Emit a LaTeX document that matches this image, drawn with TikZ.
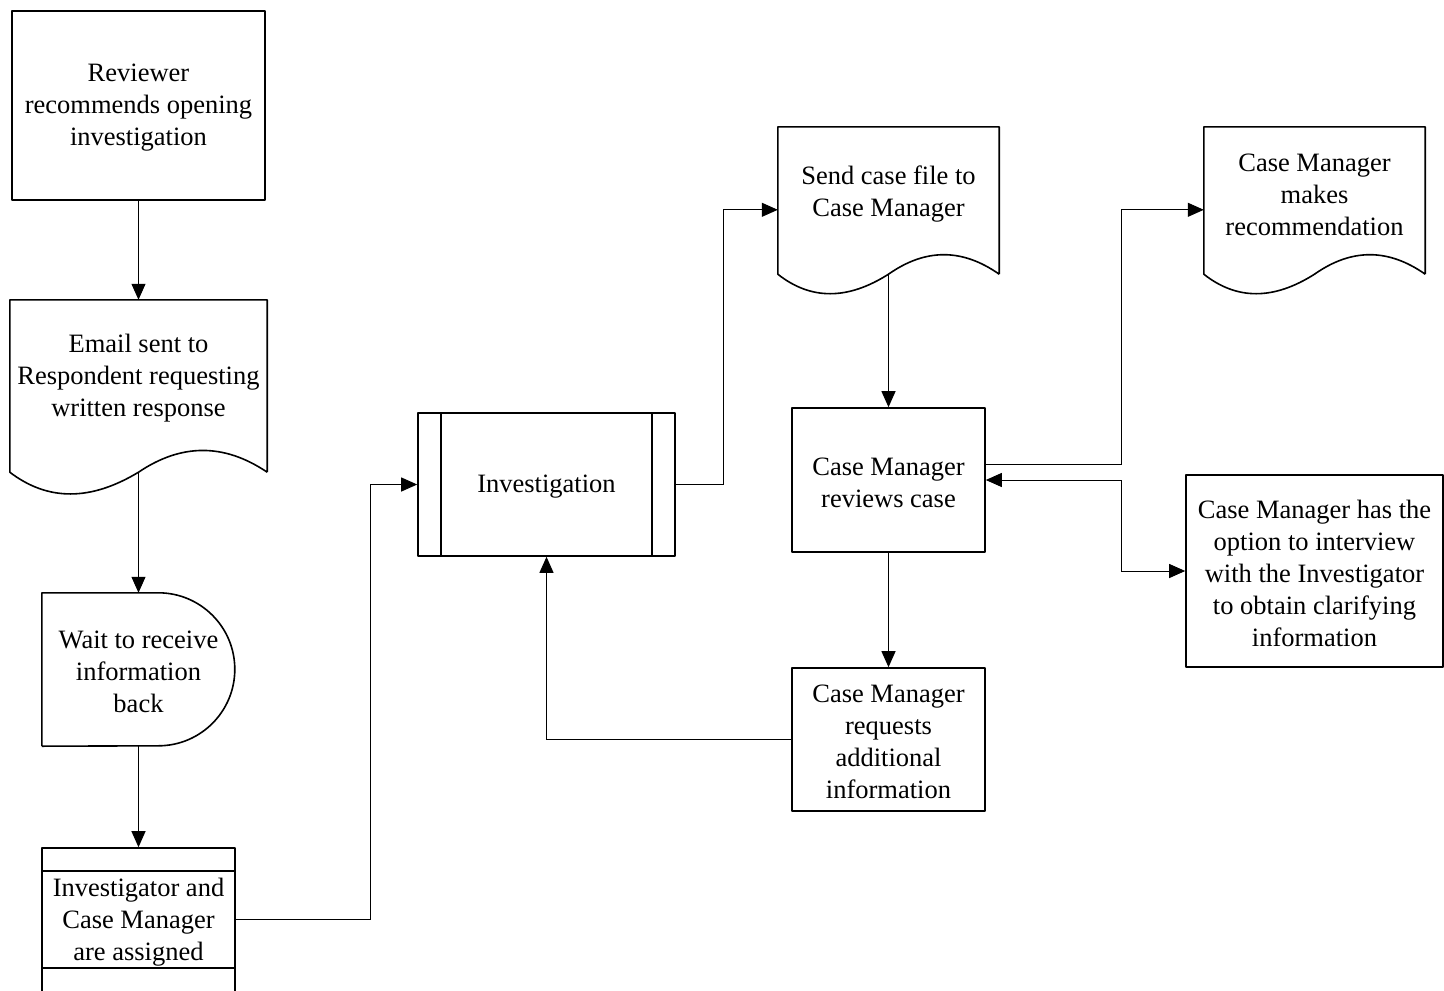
\documentclass[tikz,border=0pt]{standalone}
\usepackage{fontspec}
\setmainfont{Liberation Serif}
\usetikzlibrary{arrows.meta,calc}
\begin{document}
\begin{tikzpicture}[x=1pt,y=-1pt,
  shp/.style={draw=black,line width=1.6pt,line join=round},
  sbox/.style={shp,rectangle,inner sep=0pt,minimum width=#1},
  ghost/.style={rectangle,inner sep=0pt,minimum width=#1},
  txt/.style={align=center,font=\fontsize{26.5}{32}\selectfont,inner sep=0pt},
  tx/.style={txt,yshift=-2.5pt},
  conn/.style={line width=1pt,-{Triangle[length=16pt,width=14pt]}},
  conn2/.style={line width=1pt,{Triangle[length=16pt,width=14pt]}-{Triangle[length=16pt,width=14pt]}}]
\useasboundingbox (0,0) rectangle (1444,991);
% Reviewer
\node[sbox=253pt,minimum height=189pt] (r1) at (138.5,105.5) {};
\node[tx] (r1t) at (r1) {Reviewer\\recommends opening\\investigation};
% Email document
\node[ghost=257pt,minimum height=172pt] (d1) at (138.5,386) {};
\draw[shp] (d1.south east) -- (d1.north east) -- (d1.north west) -- (d1.south west)
  .. controls +(38,29) and +(-48,29) .. (d1.south)
  .. controls +(43,-29) and +(-43,-29) .. (d1.south east);
\node[tx] (d1t) at (138.5,376) {Email sent to\\Respondent requesting\\written response};
% Delay
\node[ghost=193pt,minimum height=153pt] (w1) at (138.5,669.5) {};
\draw[shp] (w1.south west) -- (w1.north west) -- ++(116.5,0) arc (-90:90:76.5) -- (w1.south west);
\node[tx] (w1t) at (w1) {Wait to receive\\information\\back};
% Assigned
\node[sbox=193pt,minimum height=146pt] (a1) at (138.5,921) {};
\draw[shp] ($(a1.north west)+(0,24)$) -- ($(a1.north east)+(0,24)$);
\draw[shp] ($(a1.south west)+(0,-27)$) -- ($(a1.south east)+(0,-27)$);
\node[tx] (a1t) at (138.5,919.5) {Investigator and\\Case Manager\\are assigned};
% Investigation
\node[sbox=257pt,minimum height=143pt] (inv) at (546.5,484.5) {};
\node[tx] (invt) at (inv) {Investigation};
\draw[shp] ($(inv.north west)+(24,0)$) -- ($(inv.south west)+(24,0)$);
\draw[shp] ($(inv.north east)+(-24,0)$) -- ($(inv.south east)+(-24,0)$);
% Send case file document
\node[ghost=221pt,minimum height=147pt] (d2) at (888.5,200.5) {};
\draw[shp] (d2.south east) -- (d2.north east) -- (d2.north west) -- (d2.south west)
  .. controls +(33,26) and +(-41,26) .. (d2.south)
  .. controls +(37,-26) and +(-37,-26) .. (d2.south east);
\node[tx] (d2t) at (888.5,192) {Send case file to\\Case Manager};
% CM makes recommendation document
\node[ghost=221pt,minimum height=147pt] (d3) at (1314.5,200.5) {};
\draw[shp] (d3.south east) -- (d3.north east) -- (d3.north west) -- (d3.south west)
  .. controls +(33,26) and +(-41,26) .. (d3.south)
  .. controls +(37,-26) and +(-37,-26) .. (d3.south east);
\node[tx] (d3t) at (1314.5,192) {Case Manager\\makes\\recommendation};
% CM reviews case
\node[sbox=193pt,minimum height=144pt] (cmr) at (888.5,480) {};
\node[tx] (cmrt) at (cmr) {Case Manager\\reviews case};
% CM requests
\node[sbox=193pt,minimum height=143pt] (cmq) at (888.5,739.5) {};
\node[tx] (cmqt) at (cmq) {Case Manager\\requests\\additional\\information};
% Option
\node[sbox=257pt,minimum height=192pt] (opt) at (1314.5,571) {};
\node[tx] (optt) at (opt) {Case Manager has the\\option to interview\\with the Investigator\\to obtain clarifying\\information};
% connectors
\coordinate (a1out) at ($(a1.east)+(0,-1.5)$);
\coordinate (d2in) at ($(d2.north west)+(0,83)$);
\coordinate (d3in) at ($(d3.north west)+(0,83)$);
\coordinate (cmrout) at ($(cmr.north east)+(0,57)$);
\draw[conn] (r1.south) -- (d1.north);
\draw[conn] (d1.south) -- (w1.north);
\draw[conn] (w1.south) -- (a1.north);
\draw[conn] (a1out) -- ++(135,0) |- (inv.west);
\draw[conn] (inv.east) -- ++(48,0) |- (d2in);
\draw[conn] (d2.south) -- (cmr.north);
\draw[conn] (cmrout) -- ++(136,0) |- (d3in);
\draw[conn2] (cmr.east) -- ++(136,0) |- (opt.west);
\draw[conn] (cmr.south) -- (cmq.north);
\draw[conn] (cmq.west) -| (inv.south);
\end{tikzpicture}
\end{document}
